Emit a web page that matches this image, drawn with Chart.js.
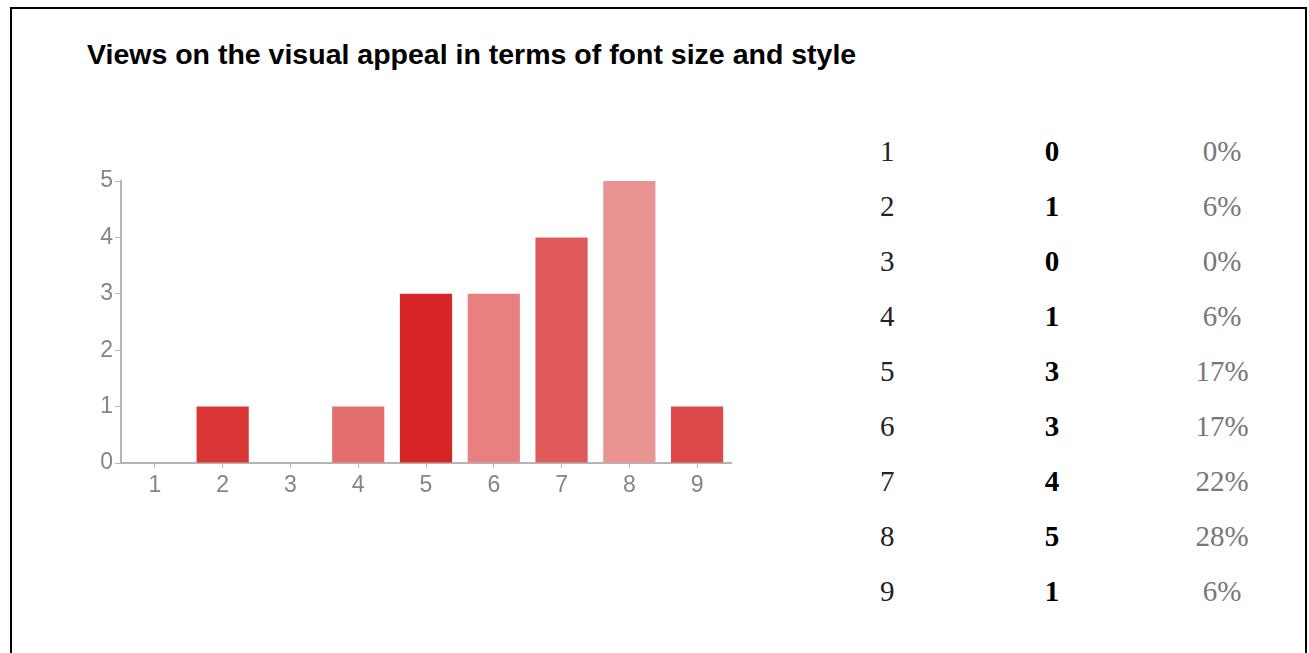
<!DOCTYPE html>
<html>
<head>
<meta charset="utf-8">
<script src="https://cdn.jsdelivr.net/npm/chart.js@4/dist/chart.umd.min.js"></script>
<style>
  body { margin: 0; background: #fff; width: 1309px; height: 653px; overflow: hidden; position: relative; }
  #frame { position: absolute; left: 10px; top: 7px; width: 1293px; height: 700px; border: 2px solid #000; }
  #title { position: absolute; left: 87px; top: 38px; font: bold 28.5px Arial, "Liberation Sans", sans-serif; color: #000; }
  #box { position: absolute; left: 40px; top: 150px; width: 720px; height: 360px; }
  .row { position: absolute; height: 55px; line-height: 55px; font-family: "Liberation Serif", "Times New Roman", serif; font-size: 29px; }
  .c1 { left: 880px; color: #222; }
  .c2 { left: 1002px; width: 100px; text-align: center; font-weight: bold; color: #000; }
  .c3 { left: 1172px; width: 100px; text-align: center; color: #777; }
</style>
</head>
<body>
<div id="frame"></div>
<div id="title">Views on the visual appeal in terms of font size and style</div>
<div id="box"><canvas id="grafico"></canvas></div>
<div id="tabla"></div>
<script>
var categorias = ['1', '2', '3', '4', '5', '6', '7', '8', '9'];
var valores = [0, 1, 0, 1, 3, 3, 4, 5, 1];
var porcentajes = ['0%', '6%', '0%', '6%', '17%', '17%', '22%', '28%', '6%'];
var colores = ['#d83030', '#da3636', '#d83030', '#e46e6e', '#d72424', '#e88080', '#e05a5a', '#ea9393', '#dd4848'];

// tabla de la derecha
var tabla = document.getElementById('tabla');
categorias.forEach(function (c, i) {
  var top = 124 + i * 55;
  [[c, 'c1'], [valores[i], 'c2'], [porcentajes[i], 'c3']].forEach(function (celda) {
    var d = document.createElement('div');
    d.className = 'row ' + celda[1];
    d.style.top = top + 'px';
    d.textContent = celda[0];
    tabla.appendChild(d);
  });
});

var gris = '#b5b5b5';
var ctx = document.getElementById('grafico').getContext('2d');
var miGrafico = new Chart(ctx, {
  type: 'bar',
  data: {
    labels: categorias,
    datasets: [{
      data: valores,
      backgroundColor: colores,
      borderWidth: 0,
      barPercentage: 0.77,
      categoryPercentage: 1
    }]
  },
  options: {
    responsive: true,
    maintainAspectRatio: false,
    animation: false,
    layout: { padding: { left: 0, right: 29, top: 31, bottom: 7 } },
    plugins: { legend: { display: false }, tooltip: { enabled: false } },
    scales: {
      x: {
        grid: { offset: false, drawOnChartArea: false, drawTicks: true, tickLength: 5, color: gris },
        border: { color: gris, width: 2 },
        ticks: { color: '#858585', font: { family: 'Arial', size: 23 }, padding: 4 },
        afterFit: function (s) { s.height = 40; }
      },
      y: {
        min: 0,
        max: 5,
        grid: { drawOnChartArea: false, drawTicks: true, tickLength: 6, color: gris },
        border: { color: gris, width: 2 },
        ticks: { stepSize: 1, color: '#858585', font: { family: 'Arial', size: 23 }, padding: 2 },
        afterFit: function (s) { s.width = 81; }
      }
    }
  }
});
</script>
</body>
</html>
